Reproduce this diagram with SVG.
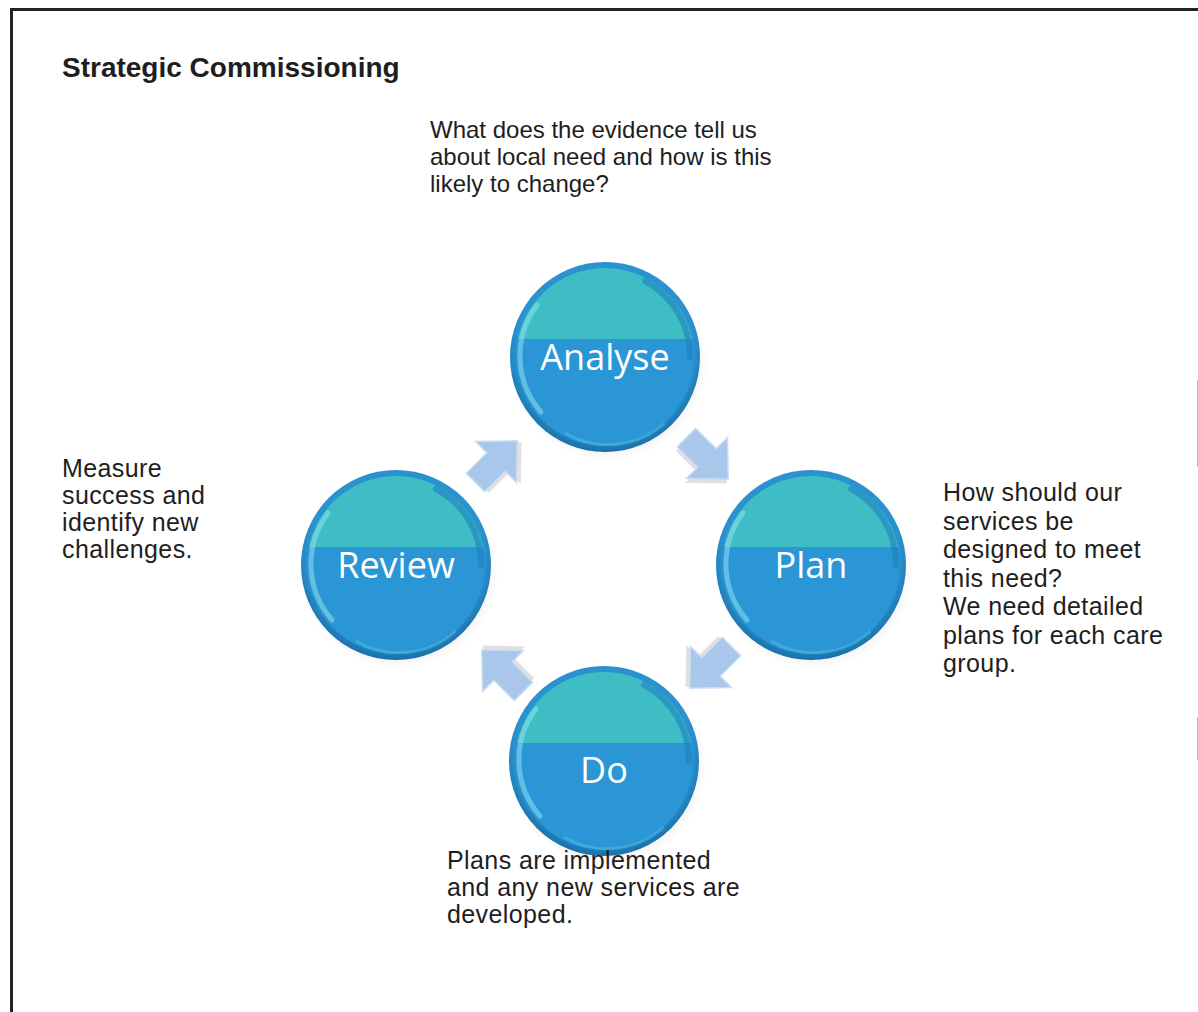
<svg xmlns="http://www.w3.org/2000/svg" width="1198" height="1012" viewBox="0 0 1198 1012">
<style>
.t{font-family:"Liberation Sans",Arial,sans-serif;font-size:25px;letter-spacing:0.4px;fill:#1e1e1e}
.tt{font-family:"Liberation Sans",Arial,sans-serif;font-size:24px;fill:#1e1e1e}
.title{font-family:"Liberation Sans",Arial,sans-serif;font-size:28px;font-weight:bold;fill:#1e1e1e}
.lbl{font-family:"Open Sans","Liberation Sans",sans-serif;font-size:36px;fill:#fff;text-anchor:middle}
.arr{fill:#a9c7ea;stroke:#c8ddf3;stroke-width:1.5}
</style>
<defs>
<clipPath id="inner"><circle r="89"/></clipPath>
<radialGradient id="edge" cx="0.5" cy="0.45" r="0.55">
<stop offset="0.85" stop-color="#2a92cf"/>
<stop offset="1" stop-color="#1a6fa8"/>
</radialGradient>
<radialGradient id="shadow" cx="0.5" cy="0.5" r="0.5">
<stop offset="0.6" stop-color="#000" stop-opacity="0.16"/>
<stop offset="1" stop-color="#000" stop-opacity="0"/>
</radialGradient>
<g id="ball">
<ellipse cx="3" cy="5" rx="100" ry="99" fill="url(#shadow)"/>
<circle r="95" fill="url(#edge)"/>
<g clip-path="url(#inner)">
<rect x="-100" y="-100" width="200" height="200" fill="#2a96d5"/>
<rect x="-100" y="-100" width="200" height="82" fill="#3ebec4"/>
</g>
<path d="M-68,-52 A85,85 0 0 0 -64,55" fill="none" stroke="#8fe0ef" stroke-width="5" stroke-opacity="0.55" stroke-linecap="round"/>
<path d="M40,-76 A85,85 0 0 1 85,0" fill="none" stroke="#1f7fbf" stroke-width="6" stroke-opacity="0.6" stroke-linecap="round"/>
<path d="M-40,76 A85,85 0 0 0 60,66" fill="none" stroke="#5cc8e8" stroke-width="3" stroke-opacity="0.4"/>
</g>
<g id="arrow">
<polygon points="-29,-13 0,-13 0,-29 30,0 0,29 0,13 -29,13" transform="translate(2,4)" fill="#000" fill-opacity="0.12"/>
<polygon class="arr" points="-29,-13 0,-13 0,-29 30,0 0,29 0,13 -29,13"/>
</g>
</defs>
<rect width="1198" height="1012" fill="#fff"/>
<g id="frame" fill="none">
<path d="M11.5,1012 V9.5 H1198" stroke="#222" stroke-width="3"/>
<path d="M1197.5,380 V467 M1197.5,717 V760" stroke="#bbb" stroke-width="1"/>
</g>
<text class="title" x="62" y="77">Strategic Commissioning</text>
<g id="connectors">
<use href="#arrow" transform="translate(707,458) rotate(45)"/>
<use href="#arrow" transform="translate(711,667) rotate(135)"/>
<use href="#arrow" transform="translate(503,671) rotate(225)"/>
<use href="#arrow" transform="translate(496,462) rotate(-45)"/>
</g>
<g id="analyse">
<use href="#ball" transform="translate(605,357)"/>
<text class="lbl" x="605" y="370">Analyse</text>
</g>
<g id="plan">
<use href="#ball" transform="translate(811,565)"/>
<text class="lbl" x="811" y="578">Plan</text>
</g>
<g id="do">
<use href="#ball" transform="translate(604,761)"/>
<text class="lbl" x="604" y="783">Do</text>
</g>
<g id="review">
<use href="#ball" transform="translate(396,565)"/>
<text class="lbl" x="396" y="578">Review</text>
</g>
<g id="note-analyse">
<text class="tt" x="430" y="138">What does the evidence tell us</text>
<text class="tt" x="430" y="165">about local need and how is this</text>
<text class="tt" x="430" y="192">likely to change?</text>
</g>
<g id="note-plan">
<text class="t" x="943" y="501">How should our</text>
<text class="t" x="943" y="529.5">services be</text>
<text class="t" x="943" y="558">designed to meet</text>
<text class="t" x="943" y="586.5">this need?</text>
<text class="t" x="943" y="615">We need detailed</text>
<text class="t" x="943" y="643.5">plans for each care</text>
<text class="t" x="943" y="672">group.</text>
</g>
<g id="note-review">
<text class="t" x="62" y="477">Measure</text>
<text class="t" x="62" y="504">success and</text>
<text class="t" x="62" y="531">identify new</text>
<text class="t" x="62" y="558">challenges.</text>
</g>
<g id="note-do">
<text class="t" x="447" y="869">Plans are implemented</text>
<text class="t" x="447" y="896">and any new services are</text>
<text class="t" x="447" y="923">developed.</text>
</g>
</svg>
